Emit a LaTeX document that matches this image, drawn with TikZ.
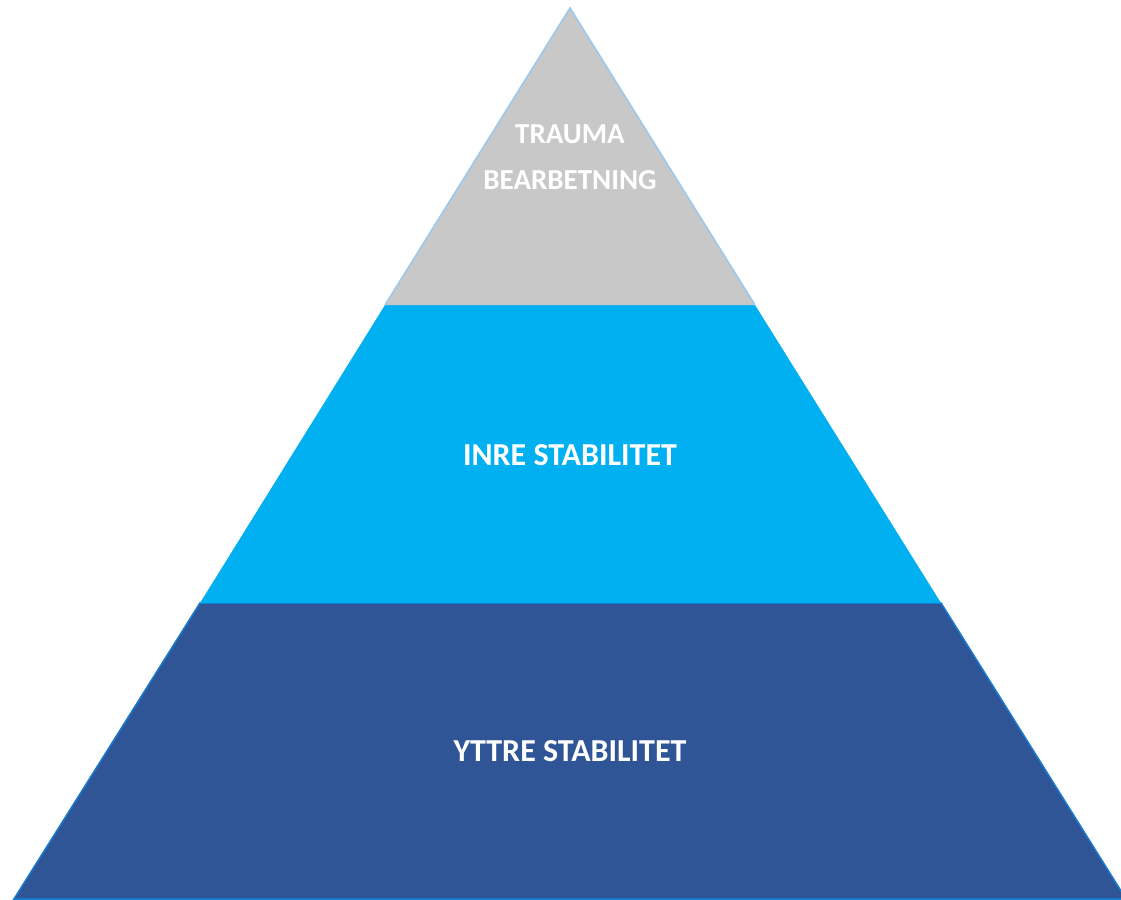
\documentclass[tikz,border=0pt]{standalone}
\usepackage{fontspec}
\setmainfont{Carlito}
\usepackage{tikz}
\usetikzlibrary{positioning}

\definecolor{topgray}{HTML}{C8C8C8}
\definecolor{topline}{HTML}{9DC8EE}
\definecolor{midblue}{HTML}{00B0F0}
\definecolor{lowblue}{HTML}{2F5597}
\definecolor{lowline}{HTML}{1878CC}

\tikzset{
  band/.style={line width=1.6pt, line join=miter},
  layertext/.style={text=white, font=\fontsize{32}{46}\selectfont\bfseries, align=center, inner sep=0pt},
  toptext/.style={layertext, font=\fontsize{29}{46}\selectfont\bfseries}
}

\begin{document}
\begin{tikzpicture}[x=1pt, y=-1pt]
      \useasboundingbox (0,0) rectangle (1121,899);

      \coordinate (apex) at (570,8);
      \coordinate (l1) at (385,305);
      \coordinate (r1) at (755,305);
      \coordinate (l2) at (200,603);
      \coordinate (r2) at (941,603);
      \coordinate (l3) at (14,899);
      \coordinate (r3) at (1126,899);

      % layers of the pyramid
      \filldraw[band, fill=lowblue, draw=lowline] (l2) -- (r2) -- (r3) -- (l3) -- cycle;
      \fill[midblue] (l1) -- (r1) -- (r2) -- (l2) -- cycle;
      \fill[topgray] (apex) -- (r1) -- (l1) -- cycle;
      \draw[band, topline] (l1) -- (apex) -- (r1);

      \node[toptext] (trauma) at (570,157) {TRAUMA\\BEARBETNING};
      \node[layertext] (inre) at (570,455) {INRE STABILITET};
      \node[layertext] (yttre) at (570,751) {YTTRE STABILITET};
    \end{tikzpicture}
\end{document}
